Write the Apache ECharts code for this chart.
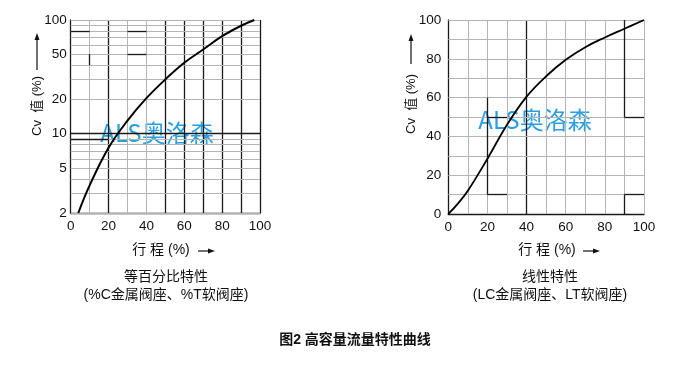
<!DOCTYPE html>
<html><head><meta charset="utf-8">
<script src="https://cdn.jsdelivr.net/npm/echarts@6/dist/echarts.min.js"></script>
<style>html,body{margin:0;padding:0;background:#fff}#c{width:681px;height:365px}</style>
</head><body><div id="c"></div>
<script>
// ---- data ----
const eqTravel = [4, 10, 20, 30, 40, 50, 60, 70, 80, 90, 97];
const eqCv = [2, 3.5, 7.5, 13, 20.5, 30, 42, 55, 72, 89, 100];
const linTravel = [0, 5, 10, 20, 30, 40, 50, 60, 70, 80, 90, 100];
const linCv = [0, 5.5, 12, 28.5, 46, 60.5, 71, 79.5, 86, 91, 95.5, 100];
const travelGrid = [10, 20, 30, 40, 50, 60, 70, 80, 90, 100];
const travelDark = [20, 50, 60, 70, 80, 90, 100];
const logGrid = [2, 3, 4, 5, 6, 7, 8, 9, 10, 20, 30, 40, 50, 60, 70, 80, 90, 100];
const logDark = [10];
const logLabels = [2, 5, 10, 20, 50, 100];
const linGrid = [10, 20, 30, 40, 50, 60, 70, 80, 90, 100];
const captions = ['等百分比特性', '(%C金属阀座、%T软阀座)', '线性特性', '(LC金属阀座、LT软阀座)'];
const figTitle = '图2 高容量流量特性曲线';
const watermark = 'ALS奥洛森';

const GRAY = '#b4b4b4', DARK = '#1a1a1a';
const NUMFONT = '"Liberation Sans", Arial, sans-serif';
const CJK = '"Liberation Sans", "Noto Sans CJK SC", sans-serif';

function vline(v, dark) { return { xAxis: v, lineStyle: { color: dark ? DARK : GRAY, width: dark ? 1.3 : 1, type: 'solid' } }; }
function hline(v, dark) { return { yAxis: v, lineStyle: { color: dark ? DARK : GRAY, width: dark ? 1.3 : 1, type: 'solid' } }; }
function seg(x1, y1, x2, y2) { return [{ coord: [x1, y1], lineStyle: { color: DARK, width: 1.3, type: 'solid' } }, { coord: [x2, y2] }]; }

const leftLines = []
  .concat(travelGrid.map(v => vline(v, travelDark.includes(v))))
  .concat(logGrid.map(v => hline(v, logDark.includes(v))))
  .concat([seg(0, 80, 10, 80), seg(30, 80, 40, 80), seg(30, 50, 40, 50), seg(10, 50, 10, 40), seg(0, 9, 20, 9)]);
const rightLines = []
  .concat(travelGrid.map(v => vline(v, v === 40)))
  .concat(linGrid.map(v => hline(v, false)))
  .concat([seg(20, 10, 20, 60), seg(20, 10, 30, 10), seg(90, 10, 100, 10), seg(90, 0, 90, 10), seg(90, 50, 90, 100), seg(90, 50, 100, 50), seg(20, 50, 30, 50)]);

const xAxisCommon = {
  type: 'value', min: 0, max: 100, interval: 10,
  axisLine: { show: true, lineStyle: { color: DARK, width: 1.3 } },
  axisTick: { show: false }, splitLine: { show: false },
  axisLabel: { color: '#111', fontSize: 13.5, fontFamily: NUMFONT, margin: 6,
    formatter: v => (v % 20 === 0 ? String(v) : '') }
};

function txt(text, x, y, opts) {
  return Object.assign({ type: 'text', x: x, y: y, silent: true,
    style: Object.assign({ text: text, fill: '#111', font: '14px ' + CJK, align: 'center', verticalAlign: 'middle' }, opts || {}) });
}
function arrowH(x1, x2, y) {
  return [{ type: 'line', shape: { x1: x1, y1: y, x2: x2 - 5, y2: y }, style: { stroke: '#111', lineWidth: 1.2 } },
    { type: 'polygon', shape: { points: [[x2, y], [x2 - 7, y - 2.5], [x2 - 7, y + 2.5]] }, style: { fill: '#111' } }];
}
function arrowV(x, y1, y2) {
  return [{ type: 'line', shape: { x1: x, y1: y1, x2: x, y2: y2 + 5 }, style: { stroke: '#111', lineWidth: 1.2 } },
    { type: 'polygon', shape: { points: [[x, y2], [x - 2.5, y2 + 7], [x + 2.5, y2 + 7]] }, style: { fill: '#111' } }];
}
function yName(x, cy) {
  return { type: 'text', x: x, y: cy, rotation: Math.PI / 2, silent: true,
    style: { text: 'Cv  值 (%)', fill: '#111', font: '13px ' + CJK, align: 'center', verticalAlign: 'middle' } };
}

const option = {
  animation: false,
  backgroundColor: '#fff',
  grid: [
    { left: 70.7, top: 20, width: 189.3, height: 193 },
    { left: 448.3, top: 20, width: 195.7, height: 194 }
  ],
  xAxis: [
    Object.assign({ gridIndex: 0 }, xAxisCommon),
    Object.assign({ gridIndex: 1 }, xAxisCommon)
  ],
  yAxis: [
    { gridIndex: 0, type: 'log', logBase: 10, min: 2, max: 100,
      axisLine: { show: true, lineStyle: { color: DARK, width: 1.3 } },
      axisTick: { show: false }, splitLine: { show: false }, minorSplitLine: { show: false },
      axisLabel: { color: '#111', fontSize: 13.5, fontFamily: NUMFONT, margin: 4, customValues: logLabels } },
    { gridIndex: 1, type: 'value', min: 0, max: 100, interval: 20,
      axisLine: { show: true, lineStyle: { color: DARK, width: 1.3 } },
      axisTick: { show: false }, splitLine: { show: false },
      axisLabel: { color: '#111', fontSize: 13.5, fontFamily: NUMFONT, margin: 7 } }
  ],
  series: [
    { type: 'line', xAxisIndex: 0, yAxisIndex: 0, smooth: 0.4, symbol: 'none',
      lineStyle: { color: '#000', width: 2 },
      data: eqTravel.map((x, i) => [x, eqCv[i]]),
      markLine: { silent: true, symbol: 'none', label: { show: false }, animation: false, data: leftLines },
      z: 5 },
    { type: 'line', xAxisIndex: 1, yAxisIndex: 1, smooth: 0.4, symbol: 'none',
      lineStyle: { color: '#000', width: 1.8 },
      data: linTravel.map((x, i) => [x, linCv[i]]),
      markLine: { silent: true, symbol: 'none', label: { show: false }, animation: false, data: rightLines },
      z: 5 }
  ],
  graphic: [].concat(
    [yName(37, 106), yName(411, 104)],
    arrowV(37, 70, 33), arrowV(411, 64, 34),
    [txt('行 程 (%)', 161, 250), txt('行 程 (%)', 547, 250)],
    arrowH(198, 215, 251), arrowH(583, 600, 251),
    [txt(captions[0], 166, 277), txt(captions[1], 166, 295),
     txt(captions[2], 550, 277), txt(captions[3], 550, 295),
     txt(figTitle, 355, 340, { font: 'bold 14px ' + CJK }),
     txt(watermark, 157, 133, { fill: '#2a9fe0', font: '24px "Noto Sans CJK SC", sans-serif' }),
     txt(watermark, 535, 120, { fill: '#2a9fe0', font: '24px "Noto Sans CJK SC", sans-serif' })]
  )
};
const chart = echarts.init(document.getElementById('c'), null, { renderer: 'canvas' });
chart.setOption(option);
</script></body></html>
